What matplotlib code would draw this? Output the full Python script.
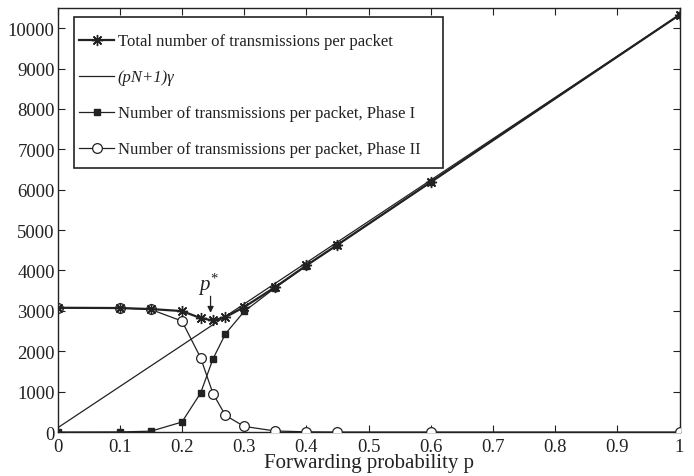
import matplotlib
matplotlib.use("Agg")
import matplotlib.pyplot as plt
from matplotlib.lines import Line2D
from matplotlib.patches import Rectangle

plt.rcParams['font.family'] = ['Liberation Serif', 'DejaVu Serif']
plt.rcParams['mathtext.fontset'] = 'custom'
plt.rcParams['mathtext.it'] = 'Liberation Serif:italic'
plt.rcParams['mathtext.rm'] = 'Liberation Serif'

# Forwarding probabilities at which the simulations were run
p = [0, 0.1, 0.15, 0.2, 0.23, 0.25, 0.27, 0.3, 0.35, 0.4, 0.45, 0.6, 1.0]

# Transmissions per packet
total = [3077, 3070, 3045, 2995, 2822, 2762, 2846, 3094, 3589, 4124, 4635, 6188, 10330]
phase1 = [0, 3, 20, 247, 965, 1814, 2433, 2985, 3572, 4118, 4635, 6188, 10330]
phase2 = [3077, 3070, 3035, 2747, 1839, 948, 411, 139, 25, 5, 0, 0, 0]

# Analytical line (pN+1)*gamma evaluated at the two ends
p_line = [0, 1.0]
line_vals = [102, 10330]

p_star = 0.25
p_star_val = 2762

fig = plt.figure(figsize=(6.94, 4.77), dpi=100)
ax = fig.add_axes([0.0829, 0.0922, 0.8963, 0.889])

col = '#222222'
ax.plot(p_line, line_vals, color=col, lw=0.9, zorder=2)
ax.plot(p, phase1, color=col, lw=0.9, marker='s', ms=5, mfc=col, mec=col, zorder=3)
ax.plot(p, phase2, color=col, lw=0.9, marker='o', ms=7, mfc='white', mec=col, mew=0.9, zorder=4)
ax.plot(p, total, color=col, lw=1.6, marker=(8, 2, 0), ms=8, mec=col, mew=1.0, zorder=5)

ax.annotate('', xy=(p_star - 0.004, p_star_val + 120), xytext=(p_star - 0.004, 3430),
            arrowprops=dict(arrowstyle='-|>', color=col, lw=0.9, mutation_scale=9))
ax.text(p_star - 0.0065, 3680, r'$p^{*}$', ha='center', va='center', fontsize=15, color=col)

ax.set_xlim(0, 1)
ax.set_ylim(0, 10500)
ax.set_xticks([i / 10 for i in range(11)])
ax.set_xticklabels(['0', '0.1', '0.2', '0.3', '0.4', '0.5', '0.6', '0.7', '0.8', '0.9', '1'])
ax.set_yticks(range(0, 10001, 1000))
ax.tick_params(direction='in', top=True, right=True, length=5, width=0.8,
               labelsize=13.5, colors=col)
ax.tick_params(axis='x', pad=4)
ax.tick_params(axis='y', pad=2)
for s in ax.spines.values():
    s.set_linewidth(1.0)
    s.set_color(col)
ax.set_xlabel('Forwarding probability p', fontsize=15, color=col, labelpad=-1)

handles = [
    Line2D([], [], color=col, lw=1.6, marker=(8, 2, 0), ms=8, mew=1.0),
    Line2D([], [], color=col, lw=0.9),
    Line2D([], [], color=col, lw=0.9, marker='s', ms=5, mfc=col),
    Line2D([], [], color=col, lw=0.9, marker='o', ms=7, mfc='white', mew=0.9),
]
labels = [
    'Total number of transmissions per packet',
    '(pN+1)γ',
    'Number of transmissions per packet, Phase I',
    'Number of transmissions per packet, Phase II',
]
# legend entries without their own frame; the box is drawn separately
leg = ax.legend(handles, labels, loc='upper left', bbox_to_anchor=(0.035, 0.940),
                fontsize=12, frameon=False,
                handlelength=2.1, handletextpad=0.2, labelspacing=1.2,
                borderpad=0, borderaxespad=0)
for t in leg.get_texts():
    t.set_color(col)
leg.get_texts()[1].set_fontstyle('italic')
leg.set_zorder(11)

box = Rectangle((0.0265, 0.623), 0.5935, 0.355, transform=ax.transAxes,
                facecolor='white', edgecolor=col, lw=1.2, zorder=10)
ax.add_patch(box)

fig.savefig('out.png', dpi=100)
